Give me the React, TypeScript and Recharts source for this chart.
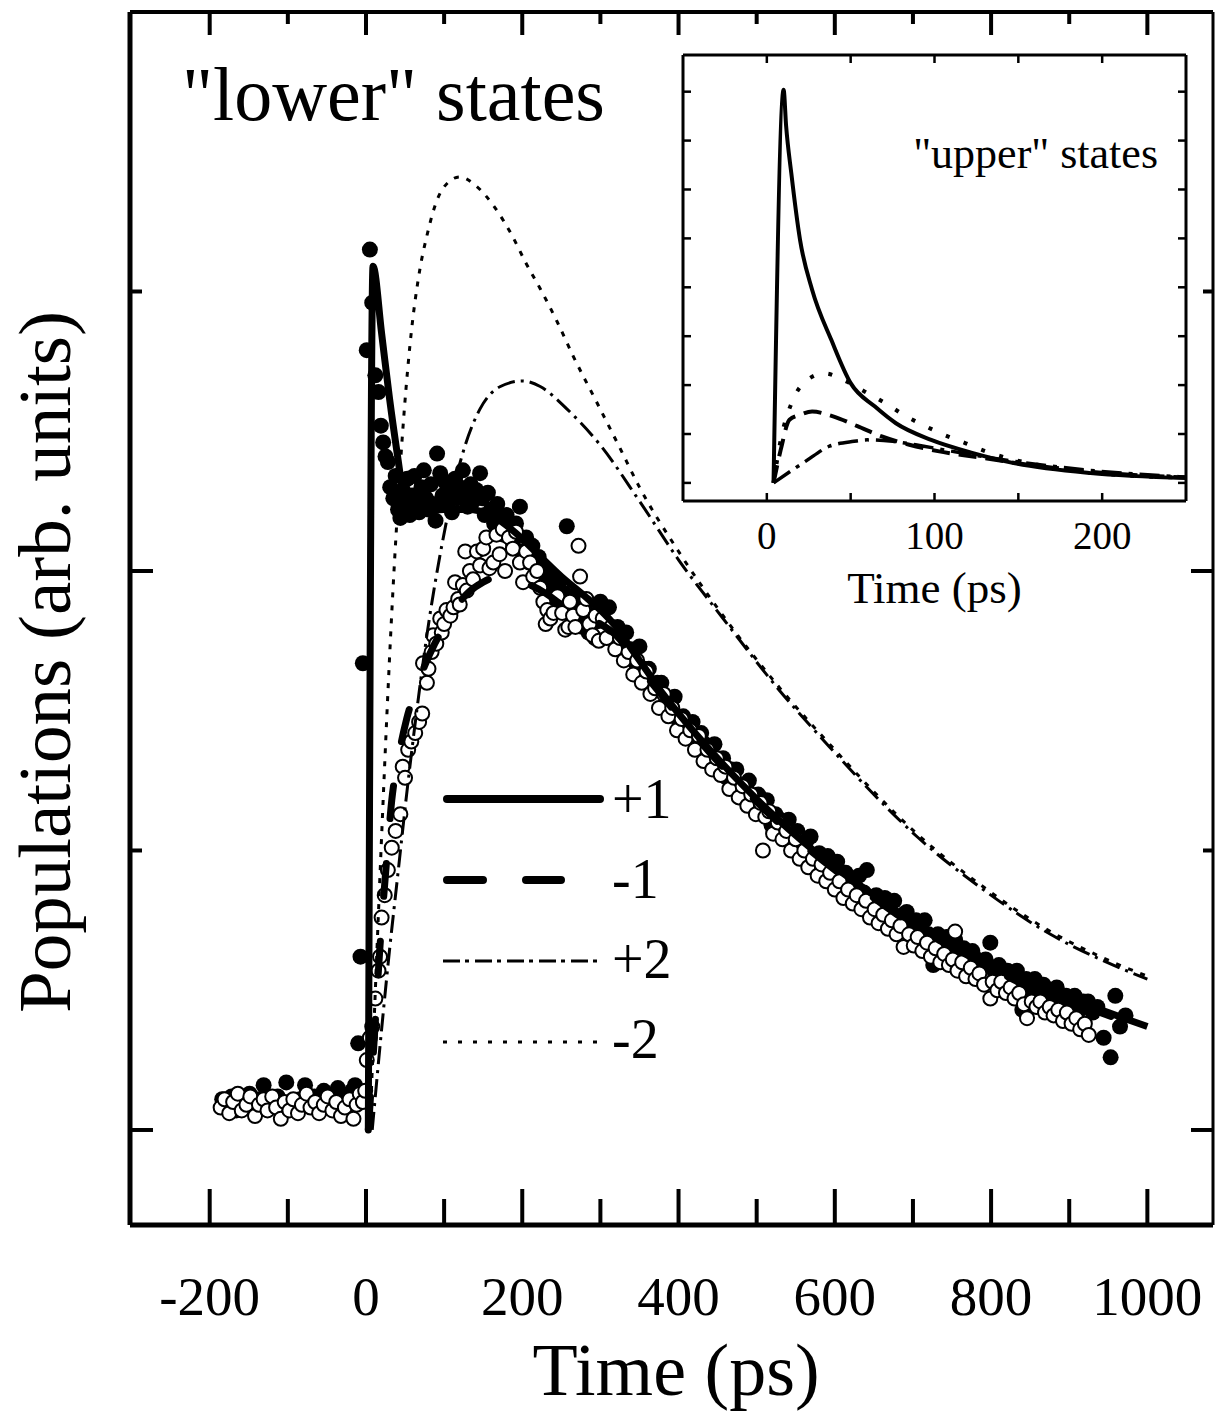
import React from 'react'
import { ComposedChart, LineChart, Line, Scatter, XAxis, YAxis, Legend } from 'recharts'

const SERIF = '"Liberation Serif", "Times New Roman", serif'

// measured populations, "lower" states: [time ps, population]
const filledData: number[][] = [
  [-184, 0.11], [-178, 0.08], [-172, 0.12], [-166, 0.07], [-160, 0.1], [-155, 0.09], [-149, 0.13], [-143, 0.08],
  [-137, 0.11], [-131, 0.16], [-125, 0.12], [-119, 0.09], [-113, 0.12], [-107, 0.08], [-102, 0.17], [-96, 0.1],
  [-90, 0.07], [-84, 0.11], [-78, 0.16], [-72, 0.09], [-66, 0.12], [-60, 0.1], [-54, 0.14], [-48, 0.08],
  [-42, 0.11], [-36, 0.15], [-30, 0.09], [-24, 0.12], [-18, 0.14], [-14, 0.16], [-10, 0.31], [-7, 0.62], [-4, 1.67],
  [1, 2.79], [5, 3.15], [8, 2.96], [12, 2.7], [16, 2.64], [19, 2.52], [22, 2.46], [25, 2.41], [28, 2.39], [31, 2.3],
  [35, 2.26], [38, 2.34], [41, 2.22], [44, 2.19], [47, 2.29], [50, 2.24], [53, 2.33], [56, 2.2], [59, 2.27],
  [62, 2.34], [65, 2.25], [68, 2.21], [71, 2.3], [74, 2.36], [77, 2.26], [80, 2.22], [83, 2.31], [86, 2.24],
  [89, 2.18], [91, 2.42], [95, 2.35], [98, 2.27], [101, 2.32], [104, 2.24], [107, 2.29], [110, 2.21], [114, 2.33],
  [117, 2.26], [120, 2.3], [124, 2.36], [127, 2.27], [130, 2.23], [134, 2.31], [137, 2.25], [141, 2.29], [146, 2.35],
  [149, 2.26], [152, 2.2], [156, 2.28], [160, 2.22], [164, 2.17], [168, 2.24], [172, 2.19], [176, 2.13], [180, 2.2],
  [184, 2.15], [188, 2.1], [192, 2.17], [197, 2.23], [201, 2.07], [205, 2.12], [209, 2.03], [213, 2.09], [217, 1.99],
  [221, 2.05], [225, 1.96], [229, 2.01], [233, 1.93], [237, 1.98], [241, 1.89], [246, 1.95], [250, 1.87], [254, 1.92],
  [257, 2.16], [261, 1.85], [265, 1.91], [269, 1.83], [273, 1.88], [277, 1.8], [281, 1.86], [285, 1.78], [289, 1.84],
  [293, 1.76], [296, 1.82],
  [300, 1.89], [306, 1.82], [311, 1.87], [317, 1.79], [322, 1.8], [328, 1.73], [333, 1.78], [339, 1.72], [345, 1.67],
  [350, 1.73], [356, 1.65], [362, 1.65], [367, 1.57], [373, 1.6], [378, 1.6], [384, 1.53], [390, 1.53], [395, 1.55],
  [401, 1.46], [406, 1.48], [412, 1.44], [418, 1.46], [423, 1.38], [429, 1.42], [434, 1.38], [440, 1.34], [446, 1.38],
  [451, 1.32], [457, 1.33], [462, 1.26], [468, 1.29], [474, 1.29], [479, 1.22], [485, 1.23], [490, 1.25], [496, 1.17],
  [502, 1.2], [507, 1.16], [513, 1.18], [519, 1.09], [524, 1.13], [530, 1.11], [535, 1.07], [541, 1.11], [547, 1.05],
  [552, 1.07], [558, 1.01], [563, 1.03], [569, 1.05], [575, 0.98], [580, 0.99], [586, 0.94], [591, 0.98], [597, 0.94],
  [603, 0.96], [608, 0.88], [614, 0.92], [620, 0.9], [625, 0.87], [631, 0.91], [637, 0.85], [641, 0.93], [648, 0.82],
  [653, 0.84], [659, 0.79], [664, 0.83], [670, 0.79], [676, 0.82], [681, 0.76], [687, 0.77], [692, 0.78], [698, 0.72],
  [704, 0.75], [709, 0.71], [715, 0.75], [720, 0.7], [726, 0.59], [732, 0.7], [737, 0.66], [743, 0.69], [748, 0.65],
  [754, 0.68], [760, 0.62], [765, 0.65], [771, 0.61], [776, 0.64], [782, 0.61], [788, 0.58], [793, 0.61], [799, 0.67],
  [805, 0.56], [810, 0.59], [816, 0.56], [821, 0.57], [827, 0.52], [833, 0.57], [840, 0.43], [845, 0.54], [851, 0.5],
  [856, 0.54], [862, 0.5], [867, 0.52], [873, 0.47], [879, 0.5], [884, 0.51], [890, 0.46], [896, 0.48], [901, 0.46],
  [907, 0.48], [913, 0.43], [918, 0.46], [924, 0.46], [930, 0.42], [936, 0.44], [944, 0.33], [953, 0.26], [959, 0.48],
  [965, 0.37], [972, 0.41],
]

const openData: number[][] = [
  [-186, 0.08], [-181, 0.11], [-175, 0.06], [-170, 0.1], [-164, 0.13], [-159, 0.07], [-153, 0.09], [-148, 0.12],
  [-142, 0.05], [-137, 0.09], [-131, 0.11], [-126, 0.07], [-120, 0.12], [-115, 0.08], [-109, 0.04], [-104, 0.1],
  [-98, 0.07], [-93, 0.11], [-87, 0.06], [-82, 0.09], [-76, 0.13], [-71, 0.08], [-65, 0.1], [-60, 0.06], [-54, 0.09],
  [-49, 0.12], [-43, 0.07], [-38, 0.1], [-32, 0.05], [-27, 0.08], [-21, 0.11], [-16, 0.04], [-12, 0.09], [-8, 0.13],
  [-4, 0.1], [-1, 0.14],
  [1, 0.25], [5, 0.33], [8, 0.37], [12, 0.47], [16, 0.57], [18, 0.62], [20, 0.76], [24, 0.84], [28, 0.93], [33, 1.01],
  [38, 1.07], [44, 1.13], [47, 1.3], [50, 1.26], [54, 1.36], [58, 1.39], [63, 1.42], [68, 1.46], [72, 1.49], [73, 1.67],
  [78, 1.6], [80, 1.65], [84, 1.71], [86, 1.77], [90, 1.74], [95, 1.83], [97, 1.78], [100, 1.81], [103, 1.86],
  [108, 1.84], [112, 1.87], [114, 1.96], [118, 1.9], [120, 1.88], [124, 1.95], [127, 2.07], [129, 1.93], [133, 2.0],
  [137, 1.97], [142, 2.07], [146, 2.02], [150, 2.08], [154, 2.12], [158, 2.01], [163, 2.03], [167, 2.13], [171, 2.06],
  [175, 2.15], [178, 2.0], [183, 2.12], [188, 2.08], [192, 2.14], [197, 2.03], [201, 1.96], [205, 2.07], [210, 2.03],
  [214, 1.98], [219, 2.0], [223, 1.94], [227, 1.89], [230, 1.81], [232, 1.86], [236, 1.83], [240, 1.85], [245, 1.91],
  [251, 1.85], [255, 1.79], [259, 1.8], [261, 1.89], [265, 1.84], [268, 1.8], [272, 2.09], [274, 1.98], [278, 1.86],
  [282, 1.9], [286, 1.81], [290, 1.77], [294, 1.84], [298, 1.75],
  [303, 1.83], [308, 1.76], [314, 1.8], [319, 1.72], [325, 1.76], [330, 1.68], [336, 1.71], [342, 1.63], [347, 1.68],
  [353, 1.6], [359, 1.64], [364, 1.56], [370, 1.58], [375, 1.51], [381, 1.56], [387, 1.48], [392, 1.51], [398, 1.43],
  [404, 1.47], [409, 1.4], [415, 1.43], [421, 1.36], [426, 1.41], [432, 1.32], [437, 1.36], [443, 1.29], [449, 1.33],
  [454, 1.27], [460, 1.3], [465, 1.22], [471, 1.26], [477, 1.19], [482, 1.23], [488, 1.16], [493, 1.2], [499, 1.13],
  [505, 1.17], [508, 1.0], [511, 1.12], [516, 1.14], [521, 1.06], [527, 1.1], [533, 1.04], [538, 1.07], [544, 1.0],
  [550, 1.04], [555, 0.97], [561, 1.0], [566, 0.94], [572, 0.97], [578, 0.91], [583, 0.95], [589, 0.89], [594, 0.92],
  [600, 0.86], [606, 0.89], [611, 0.83], [617, 0.86], [623, 0.81], [628, 0.84], [634, 0.79], [640, 0.82], [645, 0.76],
  [651, 0.79], [656, 0.74], [662, 0.77], [668, 0.72], [673, 0.75], [679, 0.7], [684, 0.73], [688, 0.655], [695, 0.7],
  [701, 0.66], [706, 0.69], [712, 0.64], [718, 0.67], [723, 0.62], [729, 0.65], [735, 0.6], [740, 0.63], [746, 0.59],
  [751, 0.61], [754, 0.71], [757, 0.57], [763, 0.6], [768, 0.55], [774, 0.58], [780, 0.54], [785, 0.56], [791, 0.52],
  [799, 0.47], [802, 0.53], [808, 0.5], [813, 0.53], [819, 0.49], [825, 0.51], [830, 0.47], [836, 0.49], [842, 0.45],
  [846, 0.4], [852, 0.46], [858, 0.44], [863, 0.46], [869, 0.42], [875, 0.44], [880, 0.41], [886, 0.43], [892, 0.39],
  [897, 0.42], [903, 0.38], [909, 0.4], [914, 0.36], [920, 0.38], [925, 0.34],
]

// model curves, lower states
const fitPlus1: number[][] = [
  [3, 0], [9, 3.09], [20, 2.85], [30, 2.62], [41, 2.4], [48, 2.27], [56, 2.22], [70, 2.21], [100, 2.22], [130, 2.22],
  [160, 2.2], [190, 2.14], [220, 2.06], [250, 1.98], [280, 1.91], [300, 1.86], [320, 1.8], [340, 1.72], [360, 1.64],
  [380, 1.56], [400, 1.49], [440, 1.36], [480, 1.24], [520, 1.13], [560, 1.03], [600, 0.94], [640, 0.86], [680, 0.78],
  [720, 0.71], [760, 0.65], [800, 0.59], [850, 0.52], [900, 0.47], [950, 0.42], [1000, 0.37],
]
const fitMinus1: number[][] = [
  [3, 0], [10, 0.3], [18, 0.66], [26, 0.95], [33, 1.18], [42, 1.34], [52, 1.47], [63, 1.57], [75, 1.66], [88, 1.74],
  [100, 1.8], [115, 1.87], [130, 1.92], [150, 1.96], [170, 1.98], [190, 1.97], [210, 1.95], [230, 1.92], [250, 1.88],
  [275, 1.84], [300, 1.81], [320, 1.77], [340, 1.7], [360, 1.62], [380, 1.55], [400, 1.48], [440, 1.35], [480, 1.23],
  [520, 1.12], [560, 1.02], [600, 0.93], [640, 0.85], [680, 0.77], [720, 0.7], [760, 0.64], [800, 0.58], [850, 0.51],
  [900, 0.46], [950, 0.41], [1000, 0.36],
]
const fitPlus2: number[][] = [
  [8, 0], [20, 0.36], [30, 0.64], [41, 0.92], [52, 1.2], [65, 1.5], [79, 1.79], [99, 2.12], [115, 2.33], [127, 2.45],
  [146, 2.58], [172, 2.66], [200, 2.68], [223, 2.66], [257, 2.58], [300, 2.45], [350, 2.25], [400, 2.04], [457, 1.83],
  [530, 1.57], [600, 1.35], [650, 1.2], [705, 1.05], [790, 0.86], [876, 0.7], [940, 0.61], [1000, 0.54],
]
const fitMinus2: number[][] = [
  [5, 0], [12, 0.5], [20, 1.05], [27, 1.5], [33, 1.85], [40, 2.2], [47, 2.5], [56, 2.8], [69, 3.08], [78, 3.2],
  [90, 3.32], [105, 3.39], [120, 3.41], [140, 3.38], [165, 3.3], [187, 3.2], [205, 3.1], [223, 3.01], [245, 2.89],
  [265, 2.77], [296, 2.6], [325, 2.44], [350, 2.3], [400, 2.07], [457, 1.84], [530, 1.58], [600, 1.36], [650, 1.21],
  [705, 1.06], [790, 0.87], [876, 0.71], [940, 0.62], [1000, 0.55],
]

// inset, "upper" states
const upPlus1: number[][] = [
  [4, 0], [10, 8.04], [11.5, 7.3], [14.6, 6.33], [19.8, 4.97], [27, 3.95], [38.5, 2.92], [50, 2.04], [64.5, 1.56],
  [77, 1.22], [98, 0.88], [123, 0.61], [148, 0.4], [193, 0.2], [250, 0.1],
]
const upMinus1: number[][] = [
  [4, 0], [8.3, 0.68], [13.5, 1.29], [19.8, 1.39], [27, 1.46], [39.5, 1.36], [54, 1.16], [68.6, 0.95], [85, 0.78],
  [102, 0.65], [127, 0.52], [148, 0.41], [189, 0.24], [250, 0.11],
]
const upPlus2: number[][] = [
  [4, 0], [23, 0.44], [37.4, 0.75], [52, 0.85], [60, 0.88], [75, 0.85], [93.6, 0.75], [116.5, 0.61], [147.7, 0.44],
  [189, 0.27], [250, 0.12],
]
const upMinus2: number[][] = [
  [4, 0], [8.3, 0.88], [15.6, 1.7], [22.9, 2.07], [34.3, 2.24], [47.8, 2.07], [58.2, 1.87], [70.7, 1.63], [83.2, 1.36],
  [94.6, 1.16], [106, 0.98], [118.6, 0.81], [131, 0.64], [147.7, 0.47], [168.5, 0.33], [189.3, 0.23], [210, 0.16],
  [250, 0.11],
]

const mainXTicks = [-200, -100, 0, 100, 200, 300, 400, 500, 600, 700, 800, 900, 1000]
const mainYTicks = [0, 1, 2, 3]
const insetXTicks = [0, 50, 100, 150, 200]
const insetYTicks = [0, 1, 2, 3, 4, 5, 6, 7, 8]
const legendRows = [
  { label: '+1', width: 8, dash: undefined, x2: 170 },
  { label: '-1', width: 8, dash: '36 43', x2: 131 },
  { label: '+2', width: 3, dash: '17 5 4 6', x2: 170 },
  { label: '-2', width: 3, dash: '4 11', x2: 170 },
]

const toPts = (rows: number[][]) => rows.map(([t, v]) => ({ t, v }))

const BottomTick = ({ x, y, payload }: any) => {
  const major = payload.value % 200 === 0
  return (
    <g>
      <line x1={x} x2={x} y1={y} y2={y - (major ? 36 : 26)} stroke="#000" strokeWidth={4} />
      {major && (
        <text x={x} y={y + 90} textAnchor="middle" fontFamily={SERIF} fontSize={55} fill="#000">
          {payload.value}
        </text>
      )}
    </g>
  )
}
const TopTick = ({ x, y, payload }: any) => (
  <line x1={x} x2={x} y1={y} y2={y + (payload.value % 200 === 0 ? 23 : 12)} stroke="#000" strokeWidth={4} />
)
const LeftTick = ({ x, y, payload }: any) => (
  <line x1={x} x2={x + (payload.value % 2 === 0 ? 23 : 12)} y1={y} y2={y} stroke="#000" strokeWidth={4} />
)
const RightTick = ({ x, y, payload }: any) => (
  <line x1={x} x2={x - (payload.value % 2 === 0 ? 22 : 10)} y1={y} y2={y} stroke="#000" strokeWidth={4} />
)

const InsetBottomTick = ({ x, y, payload }: any) => (
  <g>
    <line x1={x} x2={x} y1={y} y2={y - 8} stroke="#000" strokeWidth={2.5} />
    {payload.value % 100 === 0 && (
      <text x={x} y={y + 48} textAnchor="middle" fontFamily={SERIF} fontSize={39} fill="#000">
        {payload.value}
      </text>
    )}
  </g>
)
const InsetTopTick = ({ x, y }: any) => <line x1={x} x2={x} y1={y} y2={y + 8} stroke="#000" strokeWidth={2.5} />
const InsetLeftTick = ({ x, y }: any) => <line x1={x} x2={x + 8} y1={y} y2={y} stroke="#000" strokeWidth={2.5} />
const InsetRightTick = ({ x, y }: any) => <line x1={x} x2={x - 8} y1={y} y2={y} stroke="#000" strokeWidth={2.5} />

const FilledDot = (p: any) => <circle cx={p.cx} cy={p.cy} r={8} fill="#000" />
const OpenDot = (p: any) => <circle cx={p.cx} cy={p.cy} r={7} fill="#fff" stroke="#000" strokeWidth={2} />

const LegendBox = () => (
  <svg width={280} height={320}>
    {legendRows.map((r, i) => (
      <g key={r.label}>
        <line
          x1={r.width > 5 ? 17 : 13} x2={r.x2} y1={39 + i * 81} y2={39 + i * 81}
          stroke="#000" strokeWidth={r.width} strokeDasharray={r.dash}
          strokeLinecap={r.width > 5 ? 'round' : 'butt'}
        />
        <text x={182} y={58 + i * 80} fontFamily={SERIF} fontSize={56} fill="#000">{r.label}</text>
      </g>
    ))}
  </svg>
)

const Inset = () => {
  const lineProps = { xAxisId: 'b', yAxisId: 'l', dataKey: 'v', type: 'monotone' as const, stroke: '#000', dot: false, activeDot: false, isAnimationActive: false }
  const axis = { tickSize: 0, tickMargin: 0, tickLine: false, allowDataOverflow: true, interval: 0 as const, axisLine: { stroke: '#000', strokeWidth: 3 } }
  return (
    <LineChart width={603} height={580} margin={{ top: 9, right: 49, bottom: 123, left: 49 }}>
      <XAxis xAxisId="b" dataKey="t" type="number" domain={[-50, 250]} ticks={insetXTicks} height={1} tick={InsetBottomTick} {...axis} />
      <XAxis xAxisId="t" orientation="top" dataKey="t" type="number" domain={[-50, 250]} ticks={insetXTicks} height={1} tick={InsetTopTick} {...axis} />
      <YAxis yAxisId="l" dataKey="v" type="number" domain={[-0.37, 8.75]} ticks={insetYTicks} width={1} tick={InsetLeftTick} {...axis} />
      <YAxis yAxisId="r" orientation="right" dataKey="v" type="number" domain={[-0.37, 8.75]} ticks={insetYTicks} width={1} tick={InsetRightTick} {...axis} />
      <Line {...lineProps} data={toPts(upPlus2)} strokeWidth={3.5} strokeDasharray="20 7 4 7" />
      <Line {...lineProps} data={toPts(upMinus2)} strokeWidth={4} strokeDasharray="4 15" />
      <Line {...lineProps} data={toPts(upMinus1)} strokeWidth={4} strokeDasharray="18 9" />
      <Line {...lineProps} data={toPts(upPlus1)} strokeWidth={4} />
    </LineChart>
  )
}

export default function App() {
  const lineProps = { xAxisId: 'b', yAxisId: 'l', dataKey: 'v', type: 'monotone' as const, stroke: '#000', dot: false, activeDot: false, isAnimationActive: false, zIndex: 700 }
  const axis = { tickSize: 0, tickMargin: 0, tickLine: false, allowDataOverflow: true, interval: 0 as const }
  return (
    <div style={{ position: 'absolute', left: 0, top: 0, width: 1225, height: 1411, background: '#fff' }}>
      <ComposedChart width={1225} height={1411} margin={{ top: 11, right: 11, bottom: 185, left: 129 }}>
        <XAxis xAxisId="b" dataKey="t" type="number" domain={[-302, 1084]} ticks={mainXTicks} height={1}
          axisLine={{ stroke: '#000', strokeWidth: 5 }} tick={BottomTick} {...axis} />
        <XAxis xAxisId="t" orientation="top" dataKey="t" type="number" domain={[-302, 1084]} ticks={mainXTicks} height={1}
          axisLine={{ stroke: '#000', strokeWidth: 4 }} tick={TopTick} {...axis} />
        <YAxis yAxisId="l" dataKey="v" type="number" domain={[-0.34, 4.0]} ticks={mainYTicks} width={1}
          axisLine={{ stroke: '#000', strokeWidth: 5 }} tick={LeftTick} {...axis} />
        <YAxis yAxisId="r" orientation="right" dataKey="v" type="number" domain={[-0.34, 4.0]} ticks={mainYTicks} width={1}
          axisLine={{ stroke: '#000', strokeWidth: 3 }} tick={RightTick} {...axis} />
        <Scatter xAxisId="b" yAxisId="l" data={toPts(filledData)} dataKey="v" shape={FilledDot} isAnimationActive={false} zIndex={600} />
        <Scatter xAxisId="b" yAxisId="l" data={toPts(openData)} dataKey="v" shape={OpenDot} isAnimationActive={false} zIndex={650} />
        <Line {...lineProps} data={toPts(fitMinus2)} strokeWidth={3} strokeDasharray="5 8" />
        <Line {...lineProps} data={toPts(fitPlus2)} strokeWidth={3} strokeDasharray="18 6 3 6" />
        <Line {...lineProps} data={toPts(fitMinus1)} strokeWidth={7} strokeDasharray="33 45" strokeLinecap="round" />
        <Line {...lineProps} data={toPts(fitPlus1)} strokeWidth={7} />
        <Legend layout="vertical" align="center" verticalAlign="middle" content={LegendBox}
          wrapperStyle={{ left: 430, top: 760, width: 280, height: 320 }} />
      </ComposedChart>
      <div style={{ position: 'absolute', left: 633, top: 45 }}>
        <Inset />
      </div>
      <svg width={1225} height={1411} style={{ position: 'absolute', left: 0, top: 0, pointerEvents: 'none' }}>
        <text x={182} y={120} fontFamily={SERIF} fontSize={76} fill="#000">"lower" states</text>
        <text x={676} y={1395} textAnchor="middle" fontFamily={SERIF} fontSize={74} fill="#000">Time (ps)</text>
        <text transform="translate(70 662) rotate(-90)" textAnchor="middle" fontFamily={SERIF} fontSize={75} fill="#000">
          Populations (arb. units)
        </text>
        <text x={1158} y={168} textAnchor="end" fontFamily={SERIF} fontSize={44} fill="#000">"upper" states</text>
        <text x={934.5} y={603} textAnchor="middle" fontFamily={SERIF} fontSize={45} fill="#000">Time (ps)</text>
      </svg>
    </div>
  )
}
